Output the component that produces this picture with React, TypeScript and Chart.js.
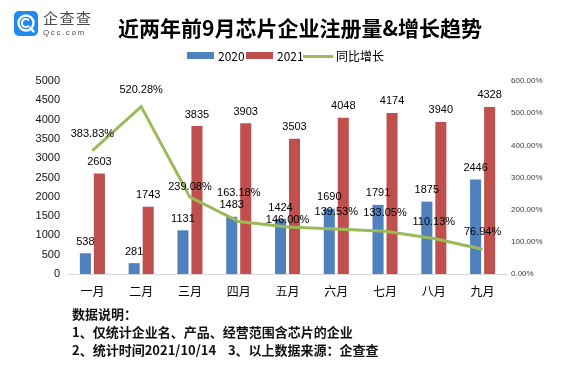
import React, { useEffect, useRef } from "react";
import { Chart, registerables } from "chart.js";

Chart.register(...registerables);

const months = ["一月", "二月", "三月", "四月", "五月", "六月", "七月", "八月", "九月"];
const values2020 = [538, 281, 1131, 1483, 1424, 1690, 1791, 1875, 2446];
const values2021 = [2603, 1743, 3835, 3903, 3503, 4048, 4174, 3940, 4328];
const growth = [383.83, 520.28, 239.08, 163.18, 146.0, 139.53, 133.05, 110.13, 76.94];
const leftTicks = { min: 0, max: 5000, step: 500 };
const rightTicks = { min: 0, max: 600, step: 100 };

const BLUE = "#4F81BD";
const RED = "#C0504D";
const GREEN = "#9BBB59";
const CJK = '"Noto Sans CJK SC", "Noto Sans", sans-serif';
const NUM = '"Liberation Sans", Arial, sans-serif';

const labelPlugin = {
  id: "valueLabels",
  afterDatasetsDraw(chart: any, _args: any, opts: any) {
    const ctx = chart.ctx;
    ctx.save();
    ctx.fillStyle = "#000";
    ctx.textAlign = "center";
    chart.data.datasets.forEach((ds: any, di: number) => {
      const meta = chart.getDatasetMeta(di);
      meta.data.forEach((el: any, i: number) => {
        const v = ds.data[i];
        if (ds.type === "line") {
          ctx.font = `11px ${NUM}`;
          ctx.textBaseline = "middle";
          const dy = (opts.lineDy && opts.lineDy[i]) ?? 17;
          ctx.fillText(v.toFixed(2) + "%", el.x, el.y - dy);
        } else {
          ctx.font = `11px ${NUM}`;
          ctx.textBaseline = "bottom";
          ctx.fillText(String(v), el.x, el.y - 6);
        }
      });
    });
    ctx.restore();
  },
};

function Logo() {
  return (
    <div style={{ position: "absolute", left: 14, top: 11 }}>
      <svg width="24" height="25" viewBox="0 0 24 25">
        <rect x="0" y="0" width="24" height="25" rx="5" fill="#1E8AF0" />
        <circle cx="12" cy="12" r="7.5" fill="none" stroke="#fff" strokeWidth="2.4" />
        <path d="M15 9.5 A4 4 0 1 0 15 14.5" fill="none" stroke="#fff" strokeWidth="2" />
        <path d="M16.5 17 L19.5 20.5" stroke="#fff" strokeWidth="2.4" strokeLinecap="round" />
      </svg>
      <div
        style={{
          position: "absolute",
          left: 29,
          top: -1,
          font: `400 15px ${CJK}`,
          color: "#4a4a4a",
          letterSpacing: 1.5,
          whiteSpace: "nowrap",
          lineHeight: "16px",
        }}
      >
        企查查
      </div>
      <div
        style={{
          position: "absolute",
          left: 29,
          top: 17,
          font: `8px ${NUM}`,
          color: "#4a4a4a",
          letterSpacing: 1.6,
          whiteSpace: "nowrap",
          lineHeight: "9px",
        }}
      >
        Qcc.com
      </div>
    </div>
  );
}

function Legend() {
  const text: React.CSSProperties = {
    position: "absolute",
    top: 49,
    font: `12px ${CJK}`,
    color: "#000",
    lineHeight: "14px",
    whiteSpace: "nowrap",
  };
  return (
    <>
      <div style={{ position: "absolute", left: 187, top: 52, width: 27, height: 7, background: BLUE }} />
      <div style={{ ...text, left: 218 }}>2020</div>
      <div style={{ position: "absolute", left: 246, top: 52, width: 27, height: 7, background: RED }} />
      <div style={{ ...text, left: 277 }}>2021</div>
      <div style={{ position: "absolute", left: 303, top: 55, width: 30, height: 3, background: GREEN }} />
      <div style={{ ...text, left: 336 }}>同比增长</div>
    </>
  );
}

export default function App() {
  const canvasRef = useRef<HTMLCanvasElement | null>(null);

  useEffect(() => {
    document.body.style.margin = "0";
    const canvas = canvasRef.current;
    if (!canvas) return;
    const chart = new Chart(canvas, {
      type: "bar",
      data: {
        labels: months,
        datasets: [
          {
            type: "line",
            label: "同比增长",
            data: growth,
            yAxisID: "y1",
            borderColor: GREEN,
            backgroundColor: GREEN,
            borderWidth: 3,
            pointRadius: 0,
            tension: 0,
            order: 0,
          } as any,
          {
            type: "bar",
            label: "2020",
            data: values2020,
            yAxisID: "y",
            backgroundColor: BLUE,
            categoryPercentage: 0.574,
            barPercentage: 0.79,
            order: 1,
          },
          {
            type: "bar",
            label: "2021",
            data: values2021,
            yAxisID: "y",
            backgroundColor: RED,
            categoryPercentage: 0.574,
            barPercentage: 0.79,
            order: 1,
          },
        ],
      },
      options: {
        responsive: false,
        animation: false,
        layout: { padding: { top: 81, left: 0, right: 0, bottom: 0 } },
        plugins: {
          legend: { display: false },
          tooltip: { enabled: false },
          title: { display: false },
          valueLabels: { lineDy: [17, 17, 10, 29, 7, 17, 18, 17, 17] },
        } as any,
        scales: {
          x: {
            position: "bottom",
            grid: { display: false, drawTicks: false },
            border: { display: true, color: "#D9D9D9", width: 1 },
            ticks: { color: "#000", font: { family: CJK, size: 12 }, padding: 10, maxRotation: 0 },
            afterFit: (s: any) => {
              s.height = 96;
            },
          },
          y: {
            position: "left",
            min: leftTicks.min,
            max: leftTicks.max,
            grid: { display: false, drawTicks: false },
            border: { display: false },
            ticks: {
              stepSize: leftTicks.step,
              color: "#111",
              font: { family: NUM, size: 11 },
              padding: 8,
              callback: (v: any) => String(v),
            },
            afterFit: (s: any) => {
              s.width = 68;
            },
          },
          y1: {
            position: "right",
            min: rightTicks.min,
            max: rightTicks.max,
            grid: { display: false, drawTicks: false },
            border: { display: false },
            ticks: {
              stepSize: rightTicks.step,
              color: "#3a3a4a",
              font: { family: NUM, size: 8 },
              padding: 4,
              callback: (v: any) => Number(v).toFixed(2) + "%",
            },
            afterFit: (s: any) => {
              s.width = 65;
            },
          },
        },
      } as any,
      plugins: [labelPlugin as any],
    });
    return () => chart.destroy();
  }, []);

  return (
    <div style={{ position: "relative", width: 572, height: 370, background: "#fff", overflow: "hidden" }}>
      <canvas ref={canvasRef} width={572} height={370} style={{ position: "absolute", left: 0, top: 0 }} />
      <Logo />
      <div
        style={{
          position: "absolute",
          left: 118,
          top: 15,
          font: `700 21px ${CJK}`,
          color: "#000",
          lineHeight: "24px",
          whiteSpace: "nowrap",
        }}
      >
        近两年前9月芯片企业注册量&amp;增长趋势
      </div>
      <Legend />
      <div
        style={{
          position: "absolute",
          left: 72,
          top: 305,
          font: `700 13px ${CJK}`,
          color: "#111",
          lineHeight: "18px",
          whiteSpace: "pre",
        }}
      >
        {"数据说明：\n1、仅统计企业名、产品、经营范围含芯片的企业\n2、统计时间2021/10/14    3、以上数据来源：企查查"}
      </div>
    </div>
  );
}
